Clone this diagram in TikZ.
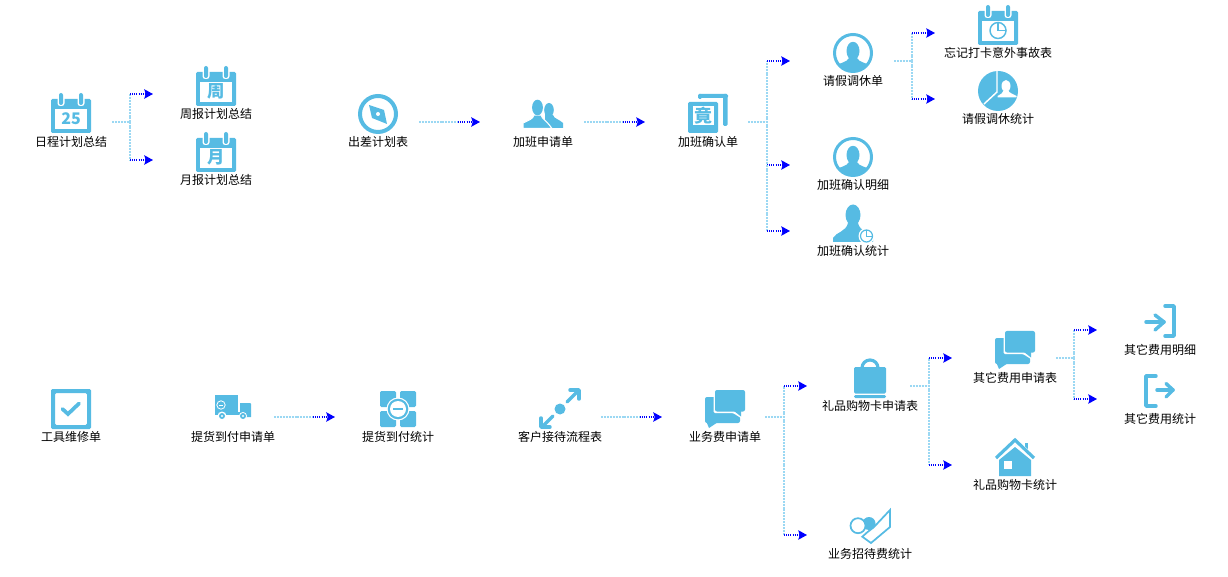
\documentclass[tikz,border=0pt]{standalone}
\usepackage{fontspec}
\setmainfont{Noto Sans CJK SC}
\usetikzlibrary{arrows.meta}
\definecolor{ico}{HTML}{56BBE3}
\definecolor{litec}{HTML}{9BD8F3}
\definecolor{tipc}{HTML}{0000FF}
\tikzset{
  lab/.style={font=\fontsize{9pt}{10pt}\selectfont,text=black,inner sep=0pt,anchor=center,yshift=-.75pt},
  litewire/.style={draw=litec,line width=1.5pt,dash pattern=on 1.5pt off .7pt},
  bluewire/.style={draw=tipc,line width=.9pt,dash pattern=on .8pt off .8pt,-{Stealth[length=6.5pt,width=7pt,inset=1pt,color=tipc,sep=0pt]}},
  icf/.style={fill=ico,draw=none},
  ics/.style={draw=ico,line width=2.6pt,line cap=round,line join=round,fill=none},
  wh/.style={fill=white,draw=none},
  calbase/.pic={
    \fill[icf,rounded corners=1pt] (-20,-14) rectangle (20,20);
    \fill[wh] (-16,-4) rectangle (16,16);
    \foreach \q in {-10,10}{
      \fill[wh,rounded corners=2pt] (\q-3.5,-20) rectangle (\q+3.5,-7);
      \fill[icf,rounded corners=1.5pt] (\q-2,-20) rectangle (\q+2,-8);
    }
  },
  calico/.pic={
    \pic at (0,0) {calbase};
    \node[inner sep=0pt,text=ico,font=\bfseries\fontsize{#1}{14pt}\selectfont] at (0,5.5) {\calchar};
  },
  clockcal/.pic={
    \pic at (0,0) {calbase};
    \draw[draw=ico,line width=1.1pt] (0,5.5) circle[radius=8];
    \draw[draw=ico,line width=.8pt] (0,-2.5) -- (0,5.5) -- (8,5.5);
  },
  usercirc/.pic={
    \fill[icf,even odd rule] (0,0) circle[radius=20] (0,0) circle[radius=17];
    \fill[icf] (0,-2) ellipse[x radius=6.5,y radius=9.2];
    \begin{scope}
      \clip (0,0) circle[radius=18];
      \fill[icf] (-20,20) -- (-20,13) .. controls (-12,10) and (-6,9) .. (-4,5) -- (4,5) .. controls (6,9) and (12,10) .. (20,13) -- (20,20) -- cycle;
    \end{scope}
  },
  pieuser/.pic={
    \fill[icf] (0,0) circle[radius=20];
    \draw[draw=white,line width=1.1pt] (-1,-20) -- (-1,1) -- (-14,13);
    \fill[wh] (8,-5) ellipse[x radius=4.5,y radius=6];
    \fill[wh] (-.5,6.5) -- (-.5,5) .. controls (3,3) and (5,2) .. (6,-1) -- (10,-1) .. controls (11,2) and (15,3) .. (18.5,5) -- (18.5,6.5) -- cycle;
  },
  compassico/.pic={
    \fill[icf,even odd rule] (0,0) circle[radius=20] (0,0) circle[radius=16];
    \fill[icf] (-9,-9) -- (6,-4) -- (9,10) -- (-6,4) -- cycle;
    \fill[wh] (0,0) circle[radius=2];
  },
  twopeople/.pic={
    \fill[icf] (6,-4) ellipse[x radius=4.8,y radius=7];
    \fill[icf] (2,0) -- (2,14) -- (20,14) -- (20,9) .. controls (16,5) and (11,5) .. (10,1) -- cycle;
    \path[fill=ico,draw=white,line width=.8pt] (-20,14.5) -- (-20,9) .. controls (-14,6) and (-10,5) .. (-9,1) -- (-2,1) .. controls (-1,5) and (3,6) .. (9,14.5) -- cycle;
    \fill[icf] (-5.5,-6.5) ellipse[x radius=5.4,y radius=7.8];
  },
  squareglyph/.pic={
    \fill[icf,rounded corners=1pt] (-10,-20) rectangle (20,-16);
    \fill[icf,rounded corners=1pt] (15,-20) rectangle (19.5,12);
    \fill[icf,rounded corners=1pt] (-10,-20) rectangle (-6,-15);
    \fill[wh] (9,-14) rectangle (15,14);
    \fill[icf,rounded corners=1pt] (-20,-12) rectangle (10,19);
    \fill[wh] (-15,-8) rectangle (6,11);
    \node[inner sep=0pt,text=ico,font=\bfseries\fontsize{13.5pt}{14pt}\selectfont] at (-4.5,1.5) {竟};
  },
  oneperson/.pic={
    \fill[icf] (0,-8) ellipse[x radius=7.5,y radius=10.5];
    \fill[icf] (-20,19) -- (-20,15) .. controls (-17,9) and (-7,9) .. (-5,0) -- (5,0) .. controls (7,9) and (17,9) .. (20,15) -- (20,19) -- cycle;
    \fill[wh] (13.5,13) circle[radius=8];
    \draw[draw=ico,line width=.9pt] (13.5,13) circle[radius=6];
    \draw[draw=ico,line width=.6pt] (13.5,7) -- (13.5,13) -- (19.5,13);
  },
  checkbox/.pic={
    \fill[icf,rounded corners=1pt,even odd rule] (-20,-20) rectangle (20,20) (-16,-16) rectangle (16,16);
    \draw[draw=ico,line width=2.8pt,line cap=round,line join=miter] (-8.5,0) -- (-3,5) -- (8,-5.5);
  },
  truckico/.pic={
    \fill[icf] (-18,-12) rectangle (5,5);
    \fill[icf] (7,-4) -- (17,-4) -- (18,-3) -- (18,10) -- (7,10) -- cycle;
    \fill[icf] (-18,5) rectangle (18,8);
    \fill[wh] (-11,9) circle[radius=4.5];
    \fill[wh] (10,9) circle[radius=4];
    \fill[icf] (-11,9) circle[radius=3];
    \fill[icf] (10,9) circle[radius=3];
    \fill[wh] (-11,9) circle[radius=1.2];
    \fill[wh] (10,9) circle[radius=1.2];
    \draw[draw=white,line width=.6pt] (-12,-2) circle[radius=4.2];
    \draw[draw=white,line width=.7pt] (-14,-2) -- (-10,-2);
  },
  quadico/.pic={
    \foreach \a/\b in {-18/-18,2/-18,-18/2,2/2}{
      \fill[icf,rounded corners=1pt] (\a,\b) rectangle (\a+16,\b+16);
    }
    \fill[wh] (0,0) circle[radius=11.5];
    \fill[icf] (0,0) circle[radius=10.3];
    \fill[wh] (0,0) circle[radius=8];
    \fill[icf] (-5,-1) rectangle (5,1);
  },
  spreadico/.pic={
    \fill[icf] (0,0) circle[radius=5.5];
    \draw[ics] (7,-7) -- (18,-18);
    \draw[ics] (10,-19) -- (19,-19) -- (19,-10);
    \draw[ics] (-7,7) -- (-18,18);
    \draw[ics] (-19,9) -- (-19,18) -- (-10,18);
  },
  chatico/.pic={
    \fill[icf,rounded corners=1.5pt] (-20,-12) rectangle (15,14);
    \fill[icf] (-19,12) -- (-16,19) -- (-7,13) -- cycle;
    \fill[wh,rounded corners=1pt] (-11.5,-20.5) -- (21,-20.5) -- (21,4) -- (17.5,4) -- (17.5,10) -- (8,4) -- (-11.5,4) -- cycle;
    \fill[icf,rounded corners=1.5pt] (-10,-19) rectangle (20,2.5);
    \fill[icf] (9,2) -- (16,7.5) -- (16,2) -- cycle;
  },
  bagico/.pic={
    \draw[draw=ico,line width=2.4pt] (-8,-8) -- (-8,-10) arc[start angle=180,end angle=360,radius=8];
    \fill[icf,rounded corners=1pt] (-16,-11) rectangle (16,15.5);
    \fill[icf,rounded corners=1pt] (-16,17) rectangle (16,20);
  },
  houseico/.pic={
    \fill[icf] (-16,3) -- (0,-10) -- (16,3) -- (16,19) -- (-16,19) -- cycle;
    \fill[wh] (-11,4) rectangle (-3,12);
    \fill[icf] (10,-14) rectangle (13,-5);
    \draw[draw=white,line width=3.8pt] (-21,3) -- (0,-16) -- (21,3);
    \draw[draw=ico,line width=2.4pt] (-19,1) -- (0,-17) -- (19,1);
  },
  bracketin/.pic={
    \draw[ics] (-14,1) -- (4,1);
    \draw[ics] (-5,-6) -- (4,1) -- (-5,9);
    \draw[ics] (5,-15) -- (14,-15) -- (14,15) -- (5,15);
  },
  bracketout/.pic={
    \draw[ics] (-3,-1) -- (13,-1);
    \draw[ics] (6,-7.5) -- (13,-1) -- (6,6);
    \draw[ics] (-4,-15) -- (-14,-15) -- (-14,15) -- (-4,15);
  },
  tickico/.pic={
    \path[fill=white,draw=ico,line width=1.3pt,line join=miter] (-7.7,9.7) -- (1,16) -- (20,0) -- (20,-17) -- (4,0) -- (-3,5.5) -- cycle;
    \fill[icf] (-1,-3.5) circle[radius=6.5];
    \fill[wh] (-12,-1.3) circle[radius=7.5];
    \draw[draw=ico,line width=1.3pt] (-12,-1.3) circle[radius=7.5];
  },
}
\newcommand{\calpic}[3]{\def\calchar{#3}\pic at (#1) {calico=#2};}
\begin{document}
\begin{tikzpicture}[x=.75pt,y=-.75pt]
\useasboundingbox (0,0) rectangle (1228,577);
% --- labels ---
\node[lab] (n1)  at (71,141)   {日程计划总结};
\node[lab] (n2)  at (216,113)  {周报计划总结};
\node[lab] (n3)  at (216,179)  {月报计划总结};
\node[lab] (n4)  at (378,141)  {出差计划表};
\node[lab] (n5)  at (543,141)  {加班申请单};
\node[lab] (n6)  at (708,141)  {加班确认单};
\node[lab] (n7)  at (853,80)   {请假调休单};
\node[lab] (n8)  at (998,52)   {忘记打卡意外事故表};
\node[lab] (n9)  at (998,118)  {请假调休统计};
\node[lab] (n10) at (853,184)  {加班确认明细};
\node[lab] (n11) at (853,250)  {加班确认统计};
\node[lab] (n12) at (71,436)   {工具维修单};
\node[lab] (n13) at (233,436)  {提货到付申请单};
\node[lab] (n14) at (398,436)  {提货到付统计};
\node[lab] (n15) at (560,436)  {客户接待流程表};
\node[lab] (n16) at (725,436)  {业务费申请单};
\node[lab] (n17) at (870,405)  {礼品购物卡申请表};
\node[lab] (n18) at (1015,377) {其它费用申请表};
\node[lab] (n19) at (1160,349) {其它费用明细};
\node[lab] (n20) at (1160,418) {其它费用统计};
\node[lab] (n21) at (1015,484) {礼品购物卡统计};
\node[lab] (n22) at (870,553)  {业务招待费统计};
% --- icons ---
\calpic{71,113}{12pt}{25}
\calpic{216,86}{13pt}{周}
\calpic{216,152}{13pt}{月}
\pic at (378,114) {compassico};
\pic at (543,114) {twopeople};
\pic at (708,114) {squareglyph};
\pic at (853,53) {usercirc};
\pic at (998,25) {clockcal};
\pic at (998,91) {pieuser};
\pic at (853,157) {usercirc};
\pic at (853,223) {oneperson};
\pic at (71,409) {checkbox};
\pic at (233,407) {truckico};
\pic at (398,409) {quadico};
\pic at (560,409) {spreadico};
\pic at (725,409) {chatico};
\pic at (870,378) {bagico};
\pic at (1015,350) {chatico};
\pic at (1160,321) {bracketin};
\pic at (1160,391) {bracketout};
\pic at (1015,457) {houseico};
\pic at (870,527) {tickico};
% --- connector ends ---
\coordinate (s1) at (112,122); \coordinate (b1) at (130,122);
\coordinate (t1a) at (153,94); \coordinate (t1b) at (153,160);
\coordinate (s2) at (419,122); \coordinate (m2) at (458,122); \coordinate (t2) at (480,122);
\coordinate (s3) at (584,122); \coordinate (m3) at (623,122); \coordinate (t3) at (645,122);
\coordinate (s4) at (748,122); \coordinate (b4) at (767,122);
\coordinate (t4a) at (790,61); \coordinate (t4b) at (790,165); \coordinate (t4c) at (790,231);
\coordinate (s5) at (894,61); \coordinate (b5) at (912,61);
\coordinate (t5a) at (935,33); \coordinate (t5b) at (935,99);
\coordinate (s6) at (274,417); \coordinate (m6) at (313,417); \coordinate (t6) at (335,417);
\coordinate (s7) at (601,417); \coordinate (m7) at (640,417); \coordinate (t7) at (662,417);
\coordinate (s8) at (765,417); \coordinate (b8) at (784,417);
\coordinate (t8a) at (807,386); \coordinate (t8b) at (807,535);
\coordinate (s9) at (910,386); \coordinate (b9) at (929,386);
\coordinate (t9a) at (952,358); \coordinate (t9b) at (952,465);
\coordinate (s10) at (1056,358); \coordinate (b10) at (1074,358);
\coordinate (t10a) at (1097,330); \coordinate (t10b) at (1097,399);
% --- connectors ---
\draw[litewire] (s2) -- (m2); \draw[bluewire] (m2) -- (t2);
\draw[litewire] (s3) -- (m3); \draw[bluewire] (m3) -- (t3);
\draw[litewire] (s6) -- (m6); \draw[bluewire] (m6) -- (t6);
\draw[litewire] (s7) -- (m7); \draw[bluewire] (m7) -- (t7);
\foreach \s/\b/\tl in {s1/b1/t1a,s1/b1/t1b,s4/b4/t4a,s4/b4/t4b,s4/b4/t4c,s5/b5/t5a,s5/b5/t5b,s8/b8/t8a,s8/b8/t8b,s9/b9/t9a,s9/b9/t9b,s10/b10/t10a,s10/b10/t10b}{
  \draw[litewire] (\s) -- (\b) -- (\b|-\tl);
  \draw[bluewire] (\b|-\tl) -- (\tl);
}
\end{tikzpicture}
\end{document}
